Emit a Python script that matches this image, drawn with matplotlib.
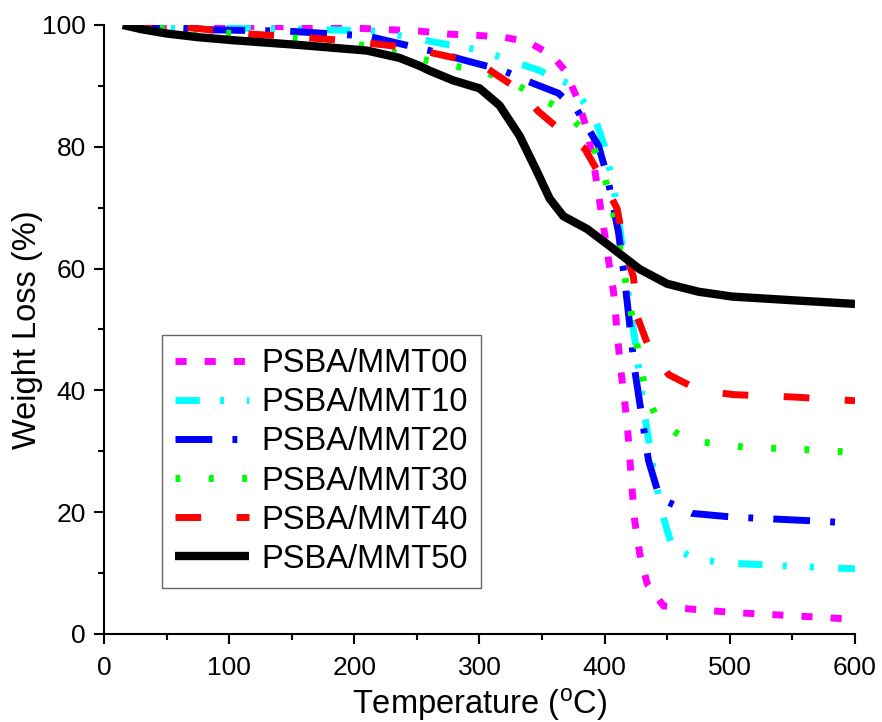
import matplotlib
matplotlib.use("Agg")
import matplotlib.pyplot as plt
from matplotlib.ticker import MultipleLocator

plt.rcParams['font.family'] = ['Liberation Sans', 'DejaVu Sans']

# TGA curves
labels = ["PSBA/MMT00", "PSBA/MMT10", "PSBA/MMT20", "PSBA/MMT30", "PSBA/MMT40", "PSBA/MMT50"]

x00 = [18, 50, 100, 165, 210, 252, 275, 298, 319, 339, 358, 368, 378, 386, 391, 395, 399, 403, 407,
       412, 418, 422, 424, 428, 434, 447, 468, 505, 550, 600]
y00 = [100, 99.9, 99.8, 99.7, 99.4, 99.0, 98.5, 98.3, 98.0, 97.2, 95.0, 92.6, 88.0, 82.7, 77.6, 72.3,
       67.0, 61.5, 56.3, 45.0, 34.6, 23.6, 18.6, 13.2, 8.2, 4.6, 4.1, 3.5, 3.0, 2.4]

x10 = [18, 60, 103, 160, 218, 256, 282, 300, 324, 347, 374, 392, 400, 407, 412, 418, 425, 431, 438,
       446, 454, 472, 494, 542, 600]
y10 = [100, 99.7, 99.5, 99.3, 99.0, 97.5, 96.5, 95.9, 94.2, 92.6, 90.1, 84.8, 80.0, 73.6, 66.8, 57.1,
       47.0, 37.3, 28.0, 19.8, 14.2, 12.4, 11.7, 11.2, 10.7]

x20 = [18, 50, 87, 146, 210, 262, 290, 318, 343, 363, 378, 395, 402, 411, 416, 424, 435, 444, 470,
       502, 564, 600]
y20 = [100, 99.6, 99.2, 99.0, 98.2, 95.7, 94.1, 92.6, 90.4, 88.8, 86.0, 80.2, 75.2, 66.0, 58.2, 43.4,
       28.5, 22.3, 19.8, 19.2, 18.6, 18.2]

x30 = [18, 60, 110, 162, 215, 240, 276, 303, 330, 355, 367, 388, 400, 408, 414, 420, 432, 442, 466,
       511, 569, 600]
y30 = [100, 99.3, 98.5, 97.7, 96.5, 95.0, 93.4, 92.4, 90.1, 87.3, 86.0, 81.7, 75.1, 68.2, 61.1, 54.1,
       40.4, 35.1, 31.8, 30.7, 30.2, 29.8]

x40 = [18, 71, 117, 143, 189, 234, 258, 300, 332, 347, 366, 384, 398, 410, 416, 423, 426, 435, 451,
       470, 484, 503, 552, 600]
y40 = [100, 99.5, 98.5, 98.2, 97.5, 96.5, 95.6, 93.7, 89.3, 85.8, 82.5, 79.7, 74.7, 69.8, 63.2, 58.6,
       52.1, 47.2, 42.6, 40.6, 39.8, 39.3, 38.9, 38.3]

x50 = [15, 30, 50, 75, 103, 157, 210, 236, 252, 260, 279, 300, 316, 332, 346, 356, 367, 386, 404, 428,
       450, 475, 502, 550, 600]
y50 = [100, 99.3, 98.6, 98.0, 97.5, 96.7, 95.8, 94.6, 93.3, 92.5, 90.9, 89.6, 86.8, 81.8, 75.9, 71.5,
       68.6, 66.5, 63.7, 59.9, 57.5, 56.2, 55.4, 54.8, 54.2]

xs = [x00, x10, x20, x30, x40, x50]
ys = [y00, y10, y20, y30, y40, y50]
colors = ["#ff00ff", "#00ffff", "#0000ff", "#00ff00", "#ff0000", "#000000"]
dashes = [(1.6, 2.6), (3.5, 2.9, 0.6, 3.3, 0.6, 3.5), (5.3, 2.9, 0.7, 2.9), (0.7, 4.1), (3.7, 5.1), None]
widths = [5, 5, 5, 5, 5, 6]

fig = plt.figure(figsize=(8.82, 7.22), dpi=100)
ax = fig.add_axes([0.1179, 0.1219, 0.8515, 0.8435])

for x, y, c, d, w, lab in zip(xs, ys, colors, dashes, widths, labels):
    if d is None:
        ax.plot(x, y, color=c, lw=w, label=lab, solid_capstyle='butt', solid_joinstyle='round')
    else:
        ax.plot(x, y, color=c, lw=w, label=lab, dashes=d, dash_capstyle='butt')

ax.set_xlim(0, 600)
ax.set_ylim(0, 100)
ax.xaxis.set_major_locator(MultipleLocator(100))
ax.xaxis.set_minor_locator(MultipleLocator(50))
ax.yaxis.set_major_locator(MultipleLocator(20))
ax.yaxis.set_minor_locator(MultipleLocator(10))
ax.tick_params(which='major', direction='out', length=7, width=1.5, labelsize=19)
ax.tick_params(which='minor', direction='out', length=4.5, width=1.5)
ax.tick_params(axis='x', pad=9)
ax.tick_params(axis='y', pad=6)
for side in ['top', 'right']:
    ax.spines[side].set_visible(False)
for side in ['left', 'bottom']:
    ax.spines[side].set_linewidth(1.5)

ax.set_xlabel("Temperature ($\\mathregular{^o}$C)", fontsize=23.5, labelpad=4)
ax.set_ylabel("Weight Loss (%)", fontsize=23.5, labelpad=-1)

leg = ax.legend(loc='upper left', bbox_to_anchor=(162 / 882, 1 - 335 / 722),
                bbox_transform=fig.transFigure, borderaxespad=0, fontsize=23.5,
                handlelength=2.27, handletextpad=0.37, labelspacing=0.25,
                borderpad=0.4, fancybox=False, framealpha=1)
leg.get_frame().set_edgecolor('0.4')
leg.get_frame().set_linewidth(1)

fig.savefig("out.png", dpi=100)
